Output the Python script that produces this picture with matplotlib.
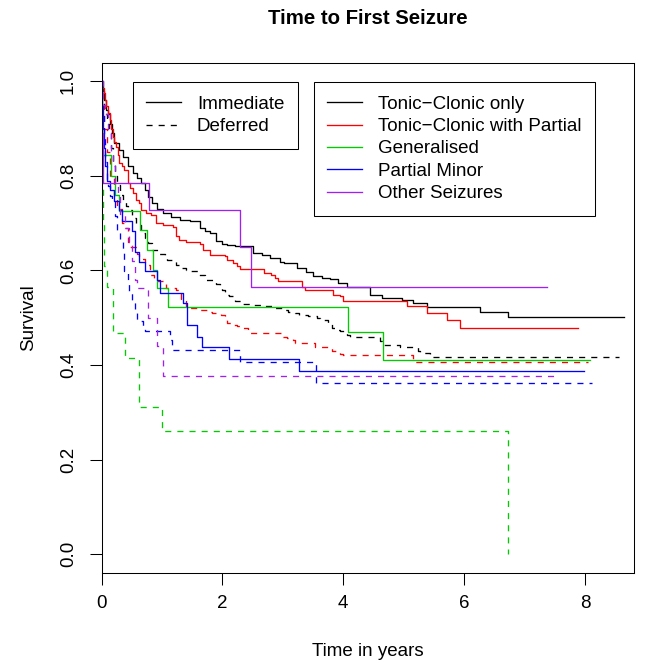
import matplotlib
matplotlib.use("Agg")
from matplotlib import pyplot as plt
from matplotlib.lines import Line2D

plt.rcParams['font.family'] = ['Liberation Sans', 'DejaVu Sans']

# survival step curves (time in years, survival)
tc_imm_t = [0, 0.02, 0.04, 0.07, 0.10, 0.13, 0.17, 0.21, 0.28, 0.35, 0.43, 0.51, 0.58, 0.65, 0.71,
            0.76, 0.84, 0.92, 1.01, 1.15, 1.29, 1.46, 1.63, 1.71, 1.79, 1.90, 1.99, 2.07, 2.20, 2.51,
            2.65, 2.79, 2.95, 3.01, 3.23, 3.38, 3.50, 3.65, 3.78, 3.92, 4.06, 4.44, 4.64, 4.97, 5.16,
            5.38, 6.27, 6.73]
tc_imm_s = [1.0, 0.98, 0.96, 0.94, 0.93, 0.91, 0.89, 0.87, 0.855, 0.84, 0.82, 0.806, 0.795, 0.785, 0.77,
            0.756, 0.742, 0.73, 0.721, 0.713, 0.707, 0.704, 0.69, 0.683, 0.679, 0.662, 0.655, 0.653, 0.651, 0.638,
            0.632, 0.626, 0.619, 0.616, 0.605, 0.597, 0.588, 0.585, 0.581, 0.574, 0.566, 0.549, 0.542, 0.538, 0.531,
            0.523, 0.513, 0.501]
tc_imm_end = 8.65

tcp_imm_t = [0, 0.01, 0.03, 0.05, 0.07, 0.10, 0.13, 0.16, 0.18, 0.21, 0.24, 0.27, 0.29, 0.33, 0.37,
             0.43, 0.47, 0.51, 0.57, 0.62, 0.65, 0.73, 0.82, 0.90, 1.01, 1.18, 1.23, 1.28, 1.40, 1.63,
             1.68, 1.79, 2.04, 2.07, 2.18, 2.24, 2.29, 2.68, 2.81, 2.87, 2.92, 3.31, 3.37, 3.83, 3.95,
             4.00, 5.05, 5.39, 5.71, 5.93]
tcp_imm_s = [1.0, 0.985, 0.975, 0.96, 0.947, 0.933, 0.919, 0.90, 0.883, 0.872, 0.862, 0.845, 0.827, 0.82, 0.813,
             0.785, 0.775, 0.763, 0.75, 0.742, 0.729, 0.722, 0.718, 0.701, 0.697, 0.693, 0.672, 0.665, 0.661, 0.655,
             0.644, 0.633, 0.630, 0.623, 0.616, 0.609, 0.603, 0.595, 0.591, 0.584, 0.577, 0.566, 0.559, 0.549, 0.545,
             0.536, 0.524, 0.511, 0.496, 0.478]
tcp_imm_end = 7.89

gen_imm_t = [0, 0.005, 0.01, 0.15, 0.22, 0.28, 0.63, 0.745, 0.855, 0.91, 1.09, 4.08, 4.66]
gen_imm_s = [1.0, 0.92, 0.845, 0.80, 0.76, 0.725, 0.685, 0.644, 0.602, 0.563, 0.523, 0.470, 0.411]
gen_imm_end = 8.08

pm_imm_t = [0, 0.01, 0.02, 0.04, 0.06, 0.09, 0.13, 0.21, 0.28, 0.33, 0.50, 0.55, 0.61, 0.72,
            0.91, 0.97, 1.34, 1.41, 1.57, 1.66, 2.11, 3.26]
pm_imm_s = [1.0, 0.95, 0.90, 0.86, 0.82, 0.79, 0.77, 0.746, 0.729, 0.704, 0.683, 0.640, 0.619, 0.598,
            0.580, 0.552, 0.531, 0.485, 0.460, 0.438, 0.413, 0.388]
pm_imm_end = 7.99

oth_imm_t = [0, 0.01, 0.025, 0.79, 2.29, 2.48]
oth_imm_s = [1.0, 0.89, 0.785, 0.728, 0.649, 0.566]
oth_imm_end = 7.37

tc_def_t = [0, 0.01, 0.03, 0.06, 0.09, 0.12, 0.15, 0.18, 0.22, 0.25, 0.30, 0.36, 0.41, 0.44, 0.50,
            0.57, 0.65, 0.72, 0.76, 0.84, 0.95, 1.04, 1.08, 1.23, 1.32, 1.40, 1.48, 1.60, 1.71, 1.88,
            1.90, 1.96, 1.99, 2.04, 2.10, 2.18, 2.21, 2.32, 2.48, 2.70, 2.87, 3.03, 3.09, 3.20, 3.26,
            3.42, 3.56, 3.61, 3.75, 3.81, 3.89, 3.95, 4.06, 4.11, 4.61, 4.64, 4.94, 5.24, 5.27, 5.43,
            5.46]
tc_def_s = [1.0, 0.97, 0.95, 0.93, 0.91, 0.89, 0.86, 0.83, 0.80, 0.78, 0.76, 0.745, 0.736, 0.729, 0.71,
            0.697, 0.68, 0.669, 0.658, 0.644, 0.635, 0.63, 0.623, 0.612, 0.605, 0.602, 0.598, 0.59, 0.58, 0.577,
            0.572, 0.563, 0.559, 0.549, 0.545, 0.538, 0.535, 0.530, 0.527, 0.524, 0.521, 0.517, 0.513, 0.51, 0.506,
            0.504, 0.499, 0.496, 0.489, 0.478, 0.475, 0.471, 0.464, 0.46, 0.45, 0.443, 0.439, 0.429, 0.425, 0.422,
            0.418]
tc_def_end = 8.56

tcp_def_t = [0, 0.01, 0.04, 0.08, 0.13, 0.20, 0.26, 0.33, 0.37, 0.43, 0.47, 0.58, 0.62, 0.72, 0.80,
             0.87, 0.90, 1.06, 1.23, 1.32, 1.40, 1.60, 1.79, 1.82, 1.98, 2.04, 2.07, 2.15, 2.24, 2.34,
             2.43, 3.00, 3.06, 3.17, 3.20, 3.53, 3.81, 3.95, 4.00, 5.16, 5.19]
tcp_def_s = [1.0, 0.95, 0.90, 0.85, 0.80, 0.76, 0.73, 0.70, 0.69, 0.66, 0.65, 0.635, 0.625, 0.612, 0.59,
             0.58, 0.577, 0.563, 0.559, 0.54, 0.521, 0.517, 0.513, 0.510, 0.506, 0.496, 0.489, 0.485, 0.482, 0.478,
             0.468, 0.460, 0.457, 0.453, 0.446, 0.439, 0.430, 0.423, 0.422, 0.411, 0.407]
tcp_def_end = 8.05

gen_def_t = [0, 0.005, 0.01, 0.02, 0.04, 0.09, 0.19, 0.39, 0.61, 1.00, 6.72]
gen_def_s = [1.0, 0.87, 0.78, 0.70, 0.61, 0.565, 0.468, 0.415, 0.312, 0.26, 0.0]
gen_def_end = 6.72

pm_def_t = [0, 0.01, 0.03, 0.05, 0.08, 0.11, 0.14, 0.17, 0.22, 0.25, 0.30, 0.35, 0.37, 0.43,
            0.46, 0.50, 0.55, 0.58, 0.69, 0.72, 1.13, 1.16, 2.29, 3.55]
pm_def_s = [1.0, 0.94, 0.88, 0.83, 0.79, 0.778, 0.757, 0.75, 0.715, 0.686, 0.665, 0.64, 0.598, 0.58,
            0.556, 0.535, 0.513, 0.494, 0.478, 0.473, 0.453, 0.431, 0.407, 0.362]
pm_def_end = 8.11

oth_def_t = [0, 0.02, 0.05, 0.10, 0.15, 0.19, 0.22, 0.27, 0.30, 0.38, 0.45, 0.50, 0.55, 0.58,
             0.77, 0.91, 1.02]
oth_def_s = [1.0, 0.95, 0.93, 0.89, 0.85, 0.82, 0.78, 0.76, 0.72, 0.69, 0.66, 0.62, 0.58, 0.563,
             0.499, 0.44, 0.376]
oth_def_end = 7.53

groups = ['Tonic\u2212Clonic only', 'Tonic\u2212Clonic with Partial', 'Generalised',
          'Partial Minor', 'Other Seizures']
colours = ['black', '#FF0000', '#00CD00', '#0000FF', '#A020F0']
arms = ['Immediate', 'Deferred']

imm = [(tc_imm_t, tc_imm_s, tc_imm_end), (tcp_imm_t, tcp_imm_s, tcp_imm_end),
       (gen_imm_t, gen_imm_s, gen_imm_end), (pm_imm_t, pm_imm_s, pm_imm_end),
       (oth_imm_t, oth_imm_s, oth_imm_end)]
dfr = [(tc_def_t, tc_def_s, tc_def_end), (tcp_def_t, tcp_def_s, tcp_def_end),
       (gen_def_t, gen_def_s, gen_def_end), (pm_def_t, pm_def_s, pm_def_end),
       (oth_def_t, oth_def_s, oth_def_end)]

W, H = 648, 666
fs = 13.5
lw = 0.95
dash = (4.6, 4.6)

fig = plt.figure(figsize=(W / 100, H / 100), dpi=100)
left, right, top, bottom = 101.7, 634, 62.5, 573
ax = fig.add_axes([left / W, 1 - bottom / H, (right - left) / W, (bottom - top) / H])

for i in range(5):
    t, s, end = imm[i]
    ax.step(t + [end], s + [s[-1]], where='post', color=colours[i], lw=lw)
    t, s, end = dfr[i]
    ln, = ax.step(t + [end], s + [s[-1]], where='post', color=colours[i], lw=lw)
    ln.set_dashes(dash)

ax.set_xlim(0, (right - left) / 60.4)
ax.set_ylim(-0.04, 1.04)
ax.set_xticks([0, 2, 4, 6, 8])
ax.set_xticklabels(['0', '2', '4', '6', '8'])
ax.set_yticks([0, 0.2, 0.4, 0.6, 0.8, 1.0])
ax.set_yticklabels(['0.0', '0.2', '0.4', '0.6', '0.8', '1.0'])
ax.tick_params(direction='out', length=8.9, width=0.75, labelsize=fs)
ax.tick_params(axis='x', pad=6.8)
ax.tick_params(axis='y', pad=9.0, labelrotation=90)
for lab in ax.get_yticklabels():
    lab.set_va('center')
for sp in ax.spines.values():
    sp.set_linewidth(0.75)

cx = (left + right) / 2 / W
fig.text(cx, 1 - 18 / H, 'Time to First Seizure', ha='center', va='center',
         fontsize=14.7, fontweight='bold')
fig.text(cx, 1 - 652 / H, 'Time in years', ha='center', va='center', fontsize=fs)
fig.text(28.5 / W, 1 - 318 / H, 'Survival', ha='center', va='center', rotation=90, fontsize=fs)

h1 = [Line2D([], [], color='black', lw=lw), Line2D([], [], color='black', lw=lw, dashes=dash)]
h2 = [Line2D([], [], color=c, lw=lw) for c in colours]

aw, ah = right - left, bottom - top
kw = dict(loc='upper left', fontsize=fs, fancybox=False, edgecolor='black', framealpha=1,
          borderpad=0.74, labelspacing=0.28, handlelength=1.85, handletextpad=0.85,
          borderaxespad=0)
leg1 = ax.legend(h1, arms, bbox_to_anchor=((132.5 - left) / aw, (bottom - 81.7) / ah), **kw)
leg1.get_frame().set_linewidth(0.75)
ax.add_artist(leg1)
leg2 = ax.legend(h2, groups, bbox_to_anchor=((313.5 - left) / aw, (bottom - 81.7) / ah), **kw)
leg2.get_frame().set_linewidth(0.75)

fig.savefig('out.png', dpi=100)
